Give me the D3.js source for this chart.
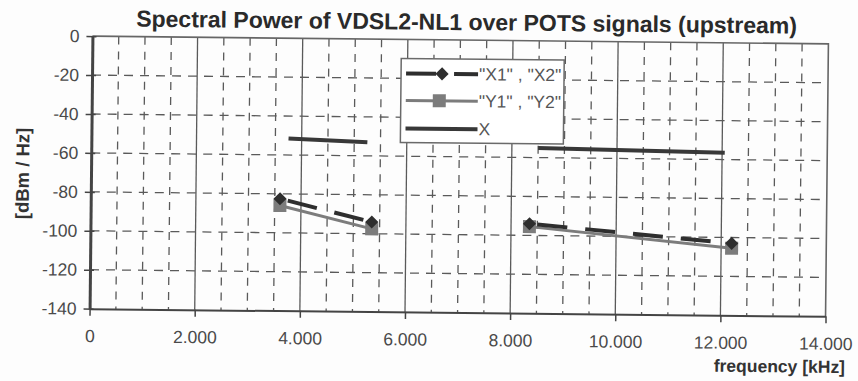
<!DOCTYPE html>
<html>
<head>
<meta charset="utf-8">
<script src="https://cdn.jsdelivr.net/npm/d3@7"></script>
<style>
  html, body { margin: 0; padding: 0; background: #fdfdfd; }
  svg { display: block; }
  text { font-family: "Liberation Sans", Arial, sans-serif; }
</style>
</head>
<body>
<svg id="chart" width="858" height="381"></svg>
<script>
// Frequency [kHz] and level [dBm/Hz]; each series has two band segments (points 0-1 and 2-3)
const x1x2Freq  = [3600, 5350, 8350, 12200];
const x1x2Level = [-82.5, -94, -94, -103];
const y1y2Freq  = [3600, 5350, 8350, 12200];
const y1y2Level = [-86, -97.5, -95.5, -105.5];
const xFreq     = [3750, 5250, 8500, 12050];
const xLevel    = [-51.5, -53, -55, -56.5];

const seriesNames = ['"X1" , "X2"', '"Y1" , "Y2"', 'X'];
const xTickValues = [0, 2000, 4000, 6000, 8000, 10000, 12000, 14000];
const yTickValues = [0, -20, -40, -60, -80, -100, -120, -140];

const titleText = "Spectral Power of VDSL2-NL1 over POTS signals (upstream)";
const xAxisTitle = "frequency [kHz]";
const yAxisTitle = "[dBm / Hz]";

const svg = d3.select("#chart");
// the printed page sits very slightly askew
const root = svg.append("g").attr("transform", "rotate(0.6, 459, 176)");

const x = d3.scaleLinear().domain([0, 14000]).range([91, 827]);
const y = d3.scaleLinear().domain([-140, 0]).range([312.5, 40]);

const deFormat = d3.formatLocale({ decimal: ",", thousands: ".", grouping: [3], currency: ["", " €"] }).format(",d");
const plainFormat = d => String(d); // keeps an ASCII hyphen as the minus sign

const gridColor = "#5a5a5a";

// minor vertical grid every 500 kHz (dashed), major every 2000 kHz (solid)
const minorX = d3.range(500, 14000, 500).filter(v => v % 2000 !== 0);
const majorX = d3.range(2000, 14000, 2000);
root.append("g").selectAll("line").data(minorX).join("line")
  .attr("x1", d => x(d)).attr("x2", d => x(d))
  .attr("y1", y(0)).attr("y2", y(-140))
  .attr("stroke", gridColor).attr("stroke-width", 1.3)
  .attr("stroke-dasharray", "8,7");
root.append("g").selectAll("line").data(majorX).join("line")
  .attr("x1", d => x(d)).attr("x2", d => x(d))
  .attr("y1", y(0)).attr("y2", y(-140))
  .attr("stroke", gridColor).attr("stroke-width", 1.3);

// horizontal grid every 20 dB (dashed)
root.append("g").selectAll("line").data(d3.range(-120, 0, 20)).join("line")
  .attr("x1", x(0)).attr("x2", x(14000))
  .attr("y1", d => y(d)).attr("y2", d => y(d))
  .attr("stroke", gridColor).attr("stroke-width", 1.3)
  .attr("stroke-dasharray", "9,7");

// plot frame (top and right)
root.append("path")
  .attr("d", `M${x(0)},${y(0)}H${x(14000)}V${y(-140)}`)
  .attr("fill", "none").attr("stroke", "#666").attr("stroke-width", 1.6);

// axes
const xAxis = root.append("g")
  .attr("transform", `translate(0,${y(-140)})`)
  .call(d3.axisBottom(x).tickValues(xTickValues).tickFormat(deFormat).tickSizeInner(7).tickSizeOuter(0).tickPadding(14));
xAxis.select(".domain").attr("stroke", "#444").attr("stroke-width", 2);
xAxis.selectAll(".tick line").attr("stroke", "#444").attr("stroke-width", 1.5);
xAxis.selectAll(".tick text").attr("font-size", 17.5).attr("fill", "#4a4a4a").attr("font-family", "Liberation Sans, Arial, sans-serif");

const yAxis = root.append("g")
  .attr("transform", `translate(${x(0)},0)`)
  .call(d3.axisLeft(y).tickValues(yTickValues).tickFormat(plainFormat).tickSizeInner(6).tickSizeOuter(0).tickPadding(7));
yAxis.select(".domain").attr("stroke", "#444").attr("stroke-width", 3);
yAxis.selectAll(".tick line").attr("stroke", "#444").attr("stroke-width", 1.5).attr("x2", -6).attr("x1", 4);
yAxis.selectAll(".tick text").attr("font-size", 17.5).attr("fill", "#4a4a4a").attr("font-family", "Liberation Sans, Arial, sans-serif");

// series
function segments(freqs, levels) {
  const pts = freqs.map((f, i) => [f, levels[i]]);
  return [pts.slice(0, 2), pts.slice(2, 4)];
}
const line = d3.line().x(d => x(d[0])).y(d => y(d[1]));

const ySegs = segments(y1y2Freq, y1y2Level);
const x12Segs = segments(x1x2Freq, x1x2Level);
const xSegs = segments(xFreq, xLevel);

const yColor = "#7c7c7c";
const x12Color = "#2e2e2e";
const xColor = "#383838";

// "Y1","Y2": grey solid with square markers
root.append("g").selectAll("path").data(ySegs).join("path")
  .attr("d", line).attr("fill", "none").attr("stroke", yColor).attr("stroke-width", 3);
root.append("g").selectAll("rect").data(ySegs.flat()).join("rect")
  .attr("x", d => x(d[0]) - 6.5).attr("y", d => y(d[1]) - 6.5)
  .attr("width", 13).attr("height", 13).attr("fill", yColor);

// "X1","X2": dark dashed with diamond markers
root.append("g").selectAll("path").data(x12Segs).join("path")
  .attr("d", line).attr("fill", "none").attr("stroke", x12Color).attr("stroke-width", 4)
  .attr("stroke-dasharray", "30,18").attr("stroke-dashoffset", -8);
const diamond = d3.symbol().type(d3.symbolDiamond2).size(110);
root.append("g").selectAll("path").data(x12Segs.flat()).join("path")
  .attr("d", diamond)
  .attr("transform", d => `translate(${x(d[0])},${y(d[1])})`)
  .attr("fill", x12Color);

// X: dark solid, no markers
root.append("g").selectAll("path").data(xSegs).join("path")
  .attr("d", line).attr("fill", "none").attr("stroke", xColor).attr("stroke-width", 4);

// legend
const legend = root.append("g");
legend.append("rect")
  .attr("x", 400).attr("y", 59).attr("width", 163).attr("height", 84)
  .attr("fill", "#fff").attr("stroke", "#6a6a6a").attr("stroke-width", 1.5);
const rows = [
  { y: 74, color: x12Color, width: 4, dash: "30,18", marker: "diamond" },
  { y: 101, color: yColor, width: 3, dash: null, marker: "square" },
  { y: 129, color: xColor, width: 4, dash: null, marker: null }
];
rows.forEach((r, i) => {
  legend.append("line")
    .attr("x1", 405).attr("x2", 477).attr("y1", r.y).attr("y2", r.y)
    .attr("stroke", r.color).attr("stroke-width", r.width)
    .attr("stroke-dasharray", r.dash);
  if (r.marker === "diamond") {
    legend.append("path").attr("d", diamond)
      .attr("transform", `translate(441,${r.y})`).attr("fill", r.color);
  } else if (r.marker === "square") {
    legend.append("rect").attr("x", 432).attr("y", r.y - 6.5)
      .attr("width", 13).attr("height", 13).attr("fill", r.color);
  }
  legend.append("text")
    .attr("x", 478).attr("y", r.y + 6)
    .attr("font-size", 17.5).attr("fill", "#555")
    .text(seriesNames[i]);
});

// titles
root.append("text")
  .attr("x", 465).attr("y", 30).attr("text-anchor", "middle")
  .attr("font-size", 23).attr("font-weight", "bold").attr("fill", "#2a2a2a")
  .text(titleText);
root.append("text")
  .attr("x", 847).attr("y", 369).attr("text-anchor", "end")
  .attr("font-size", 17.5).attr("font-weight", "bold").attr("fill", "#333")
  .text(xAxisTitle);
root.append("text")
  .attr("transform", "translate(29,178) rotate(-90)")
  .attr("text-anchor", "middle")
  .attr("font-size", 18.5).attr("font-weight", "bold").attr("fill", "#333")
  .text(yAxisTitle);
</script>
</body>
</html>
